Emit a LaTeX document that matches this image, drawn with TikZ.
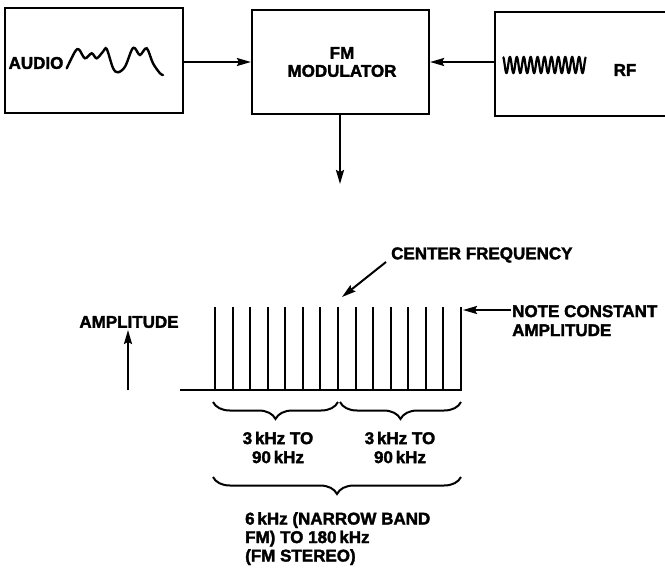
\documentclass[tikz,border=0pt]{standalone}
\usepackage{fontspec}
\setmainfont{Liberation Sans}[BoldFeatures={FakeBold=2}]
\usetikzlibrary{arrows.meta,decorations.pathreplacing}
\tikzset{
  box/.style={draw, line width=2.2pt, inner sep=0pt},
  lbl/.style={font=\bfseries\fontsize{17}{19}\selectfont, inner sep=0pt},
  arr/.style={line width=2pt, -{Stealth[length=14pt,width=8pt,inset=2pt]}},
  ln/.style={line width=2pt},
  brc/.style={line width=2pt, decorate, decoration={brace, mirror, amplitude=17pt}}
}
\begin{document}
\begin{tikzpicture}[x=1pt,y=-1pt]
\useasboundingbox (0,0) rectangle (665,568);
% boxes
\node[box, minimum width=178pt, minimum height=105pt] (audio) at (94,60.5) {};
\node[box, minimum width=177pt, minimum height=104pt] (fm) at (340.5,62) {};
\node[box, minimum width=180pt, minimum height=104pt] (rf) at (585,64) {};
\node[lbl] (audiotxt) at (36,63) {AUDIO};
\node[lbl, align=center, font=\bfseries\fontsize{17}{18}\selectfont] (fmtxt) at (342,62) {FM\\MODULATOR};
\node[lbl] (rftxt) at (625,70) {RF};
% audio waveform
\draw[ln, line width=2.4pt, line cap=round] plot[smooth, tension=0.55] coordinates {(66.7,68.3) (75,51.7) (79,49.5) (85,58.3) (91.7,53.3) (96.7,58.3) (103,51.7) (106.7,49) (113,68) (118,72.3) (125,66.7) (131.7,50) (135,48.3) (140,55) (146.7,48.3) (153,63.3) (160,73.3) (163,75)};
% rf waveform
\draw[line width=2.2pt] plot[domain=0:1, samples=400] ({503+83*\x}, {65-8*cos(12*360*\x)});
% connectors
\coordinate (audioR) at (audio.east|-0,62);
\coordinate (fmL) at (fm.west|-0,62);
\coordinate (fmR) at (fm.east|-0,62);
\coordinate (rfL) at (rf.west|-0,62);
\draw[arr] (audioR) -- (fmL);
\draw[arr] (rfL) -- (fmR);
\coordinate (fmout) at (340,184);
\draw[arr] (fm.south-|fmout) -- (fmout);
% spectrum
\coordinate (bl) at (180,390);
\coordinate (br) at (462,390);
\draw[ln] (bl) -- (br);
\foreach \i in {0,...,14} {
  \draw[ln] ({215+\i*17.57},390) -- ({215+\i*17.57},307);
}
% center frequency
\node[lbl, anchor=west] (cf) at (391,255) {CENTER FREQUENCY};
\coordinate (cfs) at (386,262);
\coordinate (cft) at (342,297);
\draw[arr] (cfs) -- (cft);
% note constant amplitude
\node[lbl, anchor=north west, align=left] (note) at (512,305) {NOTE CONSTANT\\AMPLITUDE};
\coordinate (notes) at (511,310);
\coordinate (notet) at (463,310);
\draw[arr] (notes) -- (notet);
% amplitude axis
\node[lbl] (amp) at (129,322) {AMPLITUDE};
\coordinate (amps) at (128,390);
\coordinate (ampt) at (128,330);
\draw[arr] (amps) -- (ampt);
% braces
\coordinate (b1l) at (213,402);
\coordinate (b1r) at (338,402);
\coordinate (b2l) at (340,402);
\coordinate (b2r) at (461,402);
\coordinate (b3l) at (213,477);
\coordinate (b3r) at (461,477);
\draw[brc] (b1l) -- (b1r);
\draw[brc] (b2l) -- (b2r);
\draw[brc] (b3l) -- (b3r);
\node[lbl, align=center] (t1) at (278,447.5) {3\,kHz TO\\90\,kHz};
\node[lbl, align=center] (t2) at (400,447.5) {3\,kHz TO\\90\,kHz};
\node[lbl, anchor=north west, align=left, font=\bfseries\fontsize{17}{18.5}\selectfont] (t3) at (245,512) {6\,kHz (NARROW BAND\\FM) TO 180\,kHz\\(FM STEREO)};
\end{tikzpicture}
\end{document}
